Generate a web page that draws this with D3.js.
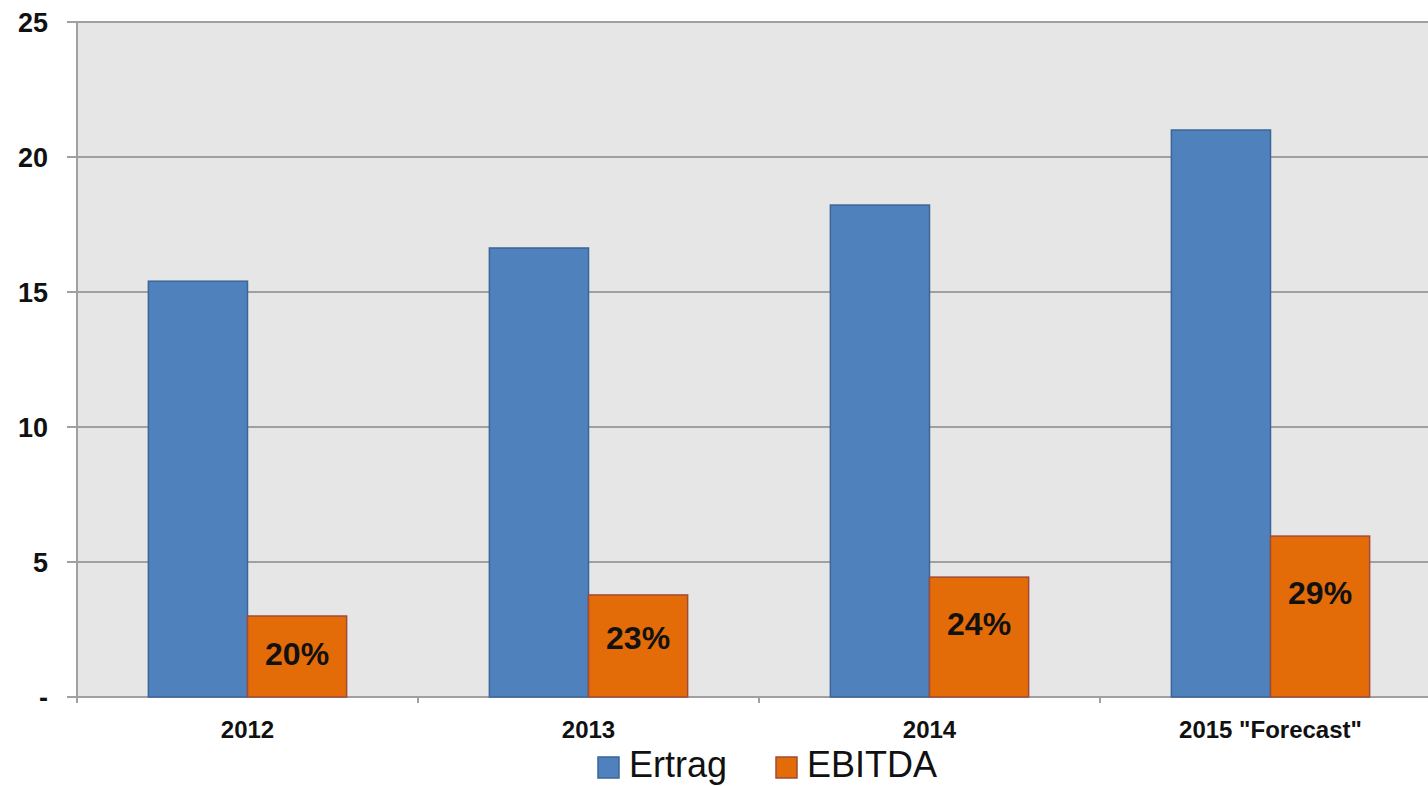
<!DOCTYPE html>
<html>
<head>
<meta charset="utf-8">
<script src="https://cdn.jsdelivr.net/npm/d3@7"></script>
<style>
  body { margin: 0; background: #fff; }
  text { font-family: "Liberation Sans", Arial, sans-serif; }
</style>
</head>
<body>
<div id="chart"></div>
<script>
// Data
var categories    = ['2012', '2013', '2014', '2015 "Forecast"'];
var series_names  = ['Ertrag', 'EBITDA'];
var ertrag        = [15.4, 16.63, 18.22, 21.0];
var ebitda        = [3.0, 3.78, 4.44, 5.96];
var margin_labels = ['20%', '23%', '24%', '29%'];
var y_ticks       = [0, 5, 10, 15, 20, 25];

var colors  = ['#4f81bd', '#e36c09'];
var strokes = ['#3b6696', '#a24a3a'];

var chart_width  = 1428;
var chart_height = 786;

var left = 77, top_y = 22, right = 1441, bottom = 697;

var svg = d3.select('#chart')
            .append('svg')
            .attr('width', chart_width)
            .attr('height', chart_height);

// Scales
var x = d3.scaleBand()
          .domain(categories)
          .range([left, right]);

var x_inner = d3.scaleBand()
                .domain(series_names)
                .range([0, x.bandwidth()])
                .paddingOuter(0.72);

var y = d3.scaleLinear()
          .domain([0, 25])
          .range([bottom, top_y]);

// Plot background
svg.append('rect')
   .attr('x', left)
   .attr('y', top_y)
   .attr('width', right - left)
   .attr('height', bottom - top_y)
   .attr('fill', '#e6e6e6');

// Gridlines (extend left as tick marks)
svg.selectAll('line.grid')
   .data(y_ticks)
   .enter()
   .append('line')
   .attr('x1', left - 10)
   .attr('x2', right)
   .attr('y1', function(d){ return y(d); })
   .attr('y2', function(d){ return y(d); })
   .attr('stroke', '#a0a0a0')
   .attr('stroke-width', 2);

// Y axis line
svg.append('line')
   .attr('x1', left).attr('x2', left)
   .attr('y1', top_y).attr('y2', bottom + 6)
   .attr('stroke', '#a0a0a0')
   .attr('stroke-width', 2);

// Y labels
svg.selectAll('text.ylab')
   .data(y_ticks)
   .enter()
   .append('text')
   .attr('x', 48)
   .attr('y', function(d){ return y(d) + 10; })
   .attr('text-anchor', 'end')
   .attr('font-size', 27)
   .attr('font-weight', 'bold')
   .attr('fill', '#111')
   .text(function(d){ return d === 0 ? '-' : d; });

// X category ticks
svg.selectAll('line.xtick')
   .data(categories)
   .enter()
   .append('line')
   .attr('x1', function(d){ return x(d); })
   .attr('x2', function(d){ return x(d); })
   .attr('y1', bottom)
   .attr('y2', bottom + 6)
   .attr('stroke', '#a0a0a0')
   .attr('stroke-width', 2);

// Bars
var groups = svg.selectAll('g.cat')
                .data(categories)
                .enter()
                .append('g')
                .attr('transform', function(d){ return 'translate(' + x(d) + ',0)'; });

groups.selectAll('rect')
      .data(function(d, i){
        return [
          { name: 'Ertrag', value: ertrag[i], s: 0 },
          { name: 'EBITDA', value: ebitda[i], s: 1 }
        ];
      })
      .enter()
      .append('rect')
      .attr('x', function(d){ return x_inner(d.name); })
      .attr('y', function(d){ return y(d.value); })
      .attr('width', x_inner.bandwidth())
      .attr('height', function(d){ return bottom - y(d.value); })
      .attr('fill', function(d){ return colors[d.s]; })
      .attr('stroke', function(d){ return strokes[d.s]; })
      .attr('stroke-width', 1.5);

// Margin labels in EBITDA bars
groups.append('text')
      .attr('x', function(d){ return x_inner('EBITDA') + x_inner.bandwidth() / 2; })
      .attr('y', function(d, i){ return y(0.76 * ebitda[i] - 0.65) + 12; })
      .attr('text-anchor', 'middle')
      .attr('font-size', 32)
      .attr('font-weight', 'bold')
      .attr('fill', '#111')
      .text(function(d, i){ return margin_labels[i]; });

// X labels
groups.append('text')
      .attr('x', x.bandwidth() / 2)
      .attr('y', 738)
      .attr('text-anchor', 'middle')
      .attr('font-size', 24)
      .attr('font-weight', 'bold')
      .attr('fill', '#111')
      .text(function(d){ return d; });

// Legend
var legend = svg.selectAll('g.legend')
                .data(series_names)
                .enter()
                .append('g')
                .attr('transform', function(d, i){
                  return 'translate(' + (598 + i * 178) + ',757)';
                });

legend.append('rect')
      .attr('width', 21)
      .attr('height', 21)
      .attr('fill', function(d, i){ return colors[i]; })
      .attr('stroke', function(d, i){ return strokes[i]; })
      .attr('stroke-width', 1.5);

legend.append('text')
      .attr('x', 31)
      .attr('y', 20)
      .attr('font-size', 36)
      .attr('fill', '#111')
      .text(function(d){ return d; });
</script>
</body>
</html>
